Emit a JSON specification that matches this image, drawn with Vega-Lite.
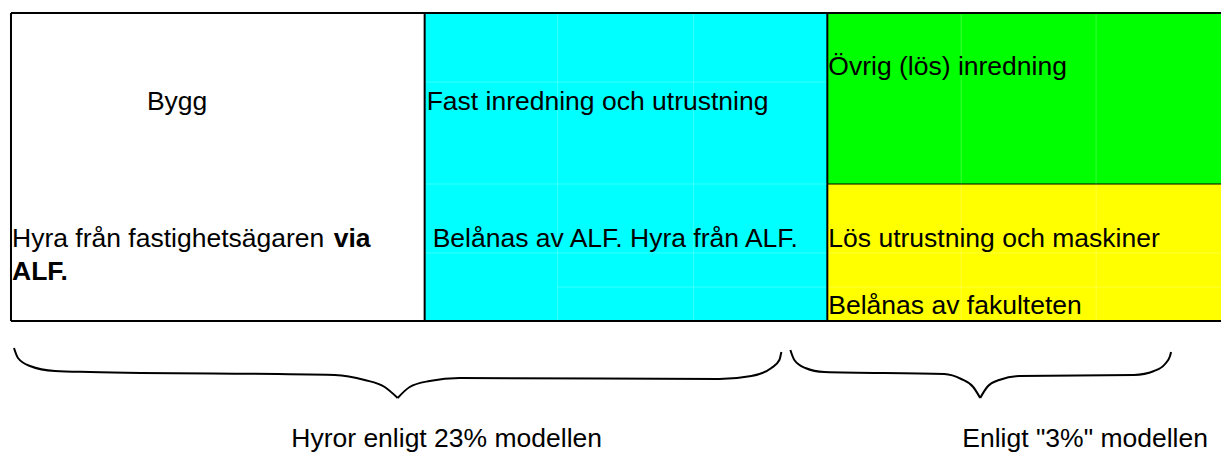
{
  "$schema": "https://vega.github.io/schema/vega-lite/v6.json",
  "width": 1222,
  "height": 455,
  "autosize": {"type": "fit", "contains": "padding"},
  "padding": 0,
  "background": "white",
  "config": {"view": {"stroke": null}, "text": {"font": "Liberation Sans"}},
  "datasets": {
    "cells": [
      {"cell": "bygg", "x": 11, "x2": 425, "y": 13, "y2": 321},
      {"cell": "fast", "x": 425, "x2": 828, "y": 13, "y2": 321},
      {"cell": "ovrig", "x": 828, "x2": 1222, "y": 13, "y2": 184},
      {"cell": "los", "x": 828, "x2": 1222, "y": 184, "y2": 321}
    ],
    "grid": [
      {"x": 558, "x2": 558, "y": 13, "y2": 321},
      {"x": 694, "x2": 694, "y": 13, "y2": 321},
      {"x": 425, "x2": 828, "y": 82, "y2": 82},
      {"x": 425, "x2": 828, "y": 184, "y2": 184},
      {"x": 425, "x2": 828, "y": 253, "y2": 253},
      {"x": 558, "x2": 828, "y": 287, "y2": 287},
      {"x": 962, "x2": 962, "y": 13, "y2": 321},
      {"x": 1097, "x2": 1097, "y": 13, "y2": 321},
      {"x": 828, "x2": 1222, "y": 253, "y2": 253},
      {"x": 828, "x2": 1222, "y": 287, "y2": 287}
    ],
    "borders": [
      {"x": 11, "x2": 1222, "y": 13, "y2": 13},
      {"x": 11, "x2": 1222, "y": 321, "y2": 321},
      {"x": 11, "x2": 11, "y": 13, "y2": 321},
      {"x": 425, "x2": 425, "y": 13, "y2": 321},
      {"x": 828, "x2": 828, "y": 13, "y2": 321}
    ],
    "inner": [
      {"x": 828, "x2": 1222, "y": 184, "y2": 184}
    ],
    "labels": [
      {"label": "Bygg", "x": 147, "y": 110},
      {"label": "Fast inredning och utrustning", "x": 427, "y": 110},
      {"label": "Övrig (lös) inredning", "x": 829, "y": 75},
      {"label": "Hyra från fastighetsägaren", "x": 12, "y": 247},
      {"label": "Belånas av ALF. Hyra från ALF.", "x": 433, "y": 247},
      {"label": "Lös utrustning och maskiner", "x": 829, "y": 247},
      {"label": "Belånas av fakulteten", "x": 829, "y": 314}
    ],
    "bold": [
      {"label": "via", "x": 334, "y": 247},
      {"label": "ALF.", "x": 12, "y": 280}
    ],
    "captions": [
      {"label": "Hyror enligt 23% modellen", "x": 447, "y": 447},
      {"label": "Enligt \"3%\" modellen", "x": 1086, "y": 447}
    ],
    "braces": [
      {"seg": "a1", "x": 14, "y": 348},
      {"seg": "a1", "x": 18, "y": 358},
      {"seg": "a1", "x": 30, "y": 366},
      {"seg": "a1", "x": 55, "y": 371},
      {"seg": "a1", "x": 90, "y": 372},
      {"seg": "a1", "x": 335, "y": 375},
      {"seg": "a1", "x": 365, "y": 380},
      {"seg": "a1", "x": 385, "y": 387},
      {"seg": "a1", "x": 398, "y": 398},
      {"seg": "a2", "x": 398, "y": 398},
      {"seg": "a2", "x": 410, "y": 387},
      {"seg": "a2", "x": 430, "y": 381},
      {"seg": "a2", "x": 460, "y": 378},
      {"seg": "a2", "x": 720, "y": 379},
      {"seg": "a2", "x": 752, "y": 376},
      {"seg": "a2", "x": 772, "y": 368},
      {"seg": "a2", "x": 780, "y": 360},
      {"seg": "a2", "x": 782, "y": 352},
      {"seg": "b1", "x": 791, "y": 350},
      {"seg": "b1", "x": 795, "y": 360},
      {"seg": "b1", "x": 806, "y": 368},
      {"seg": "b1", "x": 825, "y": 372},
      {"seg": "b1", "x": 945, "y": 374},
      {"seg": "b1", "x": 962, "y": 379},
      {"seg": "b1", "x": 974, "y": 387},
      {"seg": "b1", "x": 981, "y": 398},
      {"seg": "b2", "x": 981, "y": 398},
      {"seg": "b2", "x": 988, "y": 387},
      {"seg": "b2", "x": 1000, "y": 380},
      {"seg": "b2", "x": 1020, "y": 376},
      {"seg": "b2", "x": 1135, "y": 375},
      {"seg": "b2", "x": 1155, "y": 371},
      {"seg": "b2", "x": 1166, "y": 364},
      {"seg": "b2", "x": 1171, "y": 356},
      {"seg": "b2", "x": 1172, "y": 352}
    ]
  },
  "layer": [
    {
      "data": {"name": "cells"},
      "mark": {"type": "rect"},
      "encoding": {
        "x": {"field": "x", "type": "quantitative", "scale": {"domain": [0, 1222], "nice": false, "zero": false}, "axis": null},
        "x2": {"field": "x2"},
        "y": {"field": "y", "type": "quantitative", "scale": {"domain": [0, 455], "nice": false, "zero": false, "reverse": true}, "axis": null},
        "y2": {"field": "y2"},
        "color": {"field": "cell", "type": "nominal", "scale": {"domain": ["bygg", "fast", "ovrig", "los"], "range": ["#ffffff", "#00ffff", "#00ff00", "#ffff00"]}, "legend": null}
      }
    },
    {
      "data": {"name": "grid"},
      "mark": {"type": "rule", "color": "#ffffff", "opacity": 0.22, "strokeWidth": 1},
      "encoding": {
        "x": {"field": "x", "type": "quantitative"},
        "x2": {"field": "x2"},
        "y": {"field": "y", "type": "quantitative"},
        "y2": {"field": "y2"}
      }
    },
    {
      "data": {"name": "borders"},
      "mark": {"type": "rule", "color": "#000000", "strokeWidth": 2},
      "encoding": {
        "x": {"field": "x", "type": "quantitative"},
        "x2": {"field": "x2"},
        "y": {"field": "y", "type": "quantitative"},
        "y2": {"field": "y2"}
      }
    },
    {
      "data": {"name": "inner"},
      "mark": {"type": "rule", "color": "#000000", "strokeWidth": 1},
      "encoding": {
        "x": {"field": "x", "type": "quantitative"},
        "x2": {"field": "x2"},
        "y": {"field": "y", "type": "quantitative"},
        "y2": {"field": "y2"}
      }
    },
    {
      "data": {"name": "labels"},
      "mark": {"type": "text", "align": "left", "baseline": "alphabetic", "fontSize": 26.5, "color": "#000000"},
      "encoding": {
        "x": {"field": "x", "type": "quantitative"},
        "y": {"field": "y", "type": "quantitative"},
        "text": {"field": "label"}
      }
    },
    {
      "data": {"name": "bold"},
      "mark": {"type": "text", "align": "left", "baseline": "alphabetic", "fontSize": 26.5, "fontWeight": "bold", "color": "#000000"},
      "encoding": {
        "x": {"field": "x", "type": "quantitative"},
        "y": {"field": "y", "type": "quantitative"},
        "text": {"field": "label"}
      }
    },
    {
      "data": {"name": "captions"},
      "mark": {"type": "text", "align": "center", "baseline": "alphabetic", "fontSize": 26.5, "color": "#000000"},
      "encoding": {
        "x": {"field": "x", "type": "quantitative"},
        "y": {"field": "y", "type": "quantitative"},
        "text": {"field": "label"}
      }
    },
    {
      "data": {"name": "braces"},
      "mark": {"type": "line", "interpolate": "monotone", "color": "#000000", "strokeWidth": 2},
      "encoding": {
        "x": {"field": "x", "type": "quantitative"},
        "y": {"field": "y", "type": "quantitative"},
        "detail": {"field": "seg", "type": "nominal"}
      }
    }
  ]
}
